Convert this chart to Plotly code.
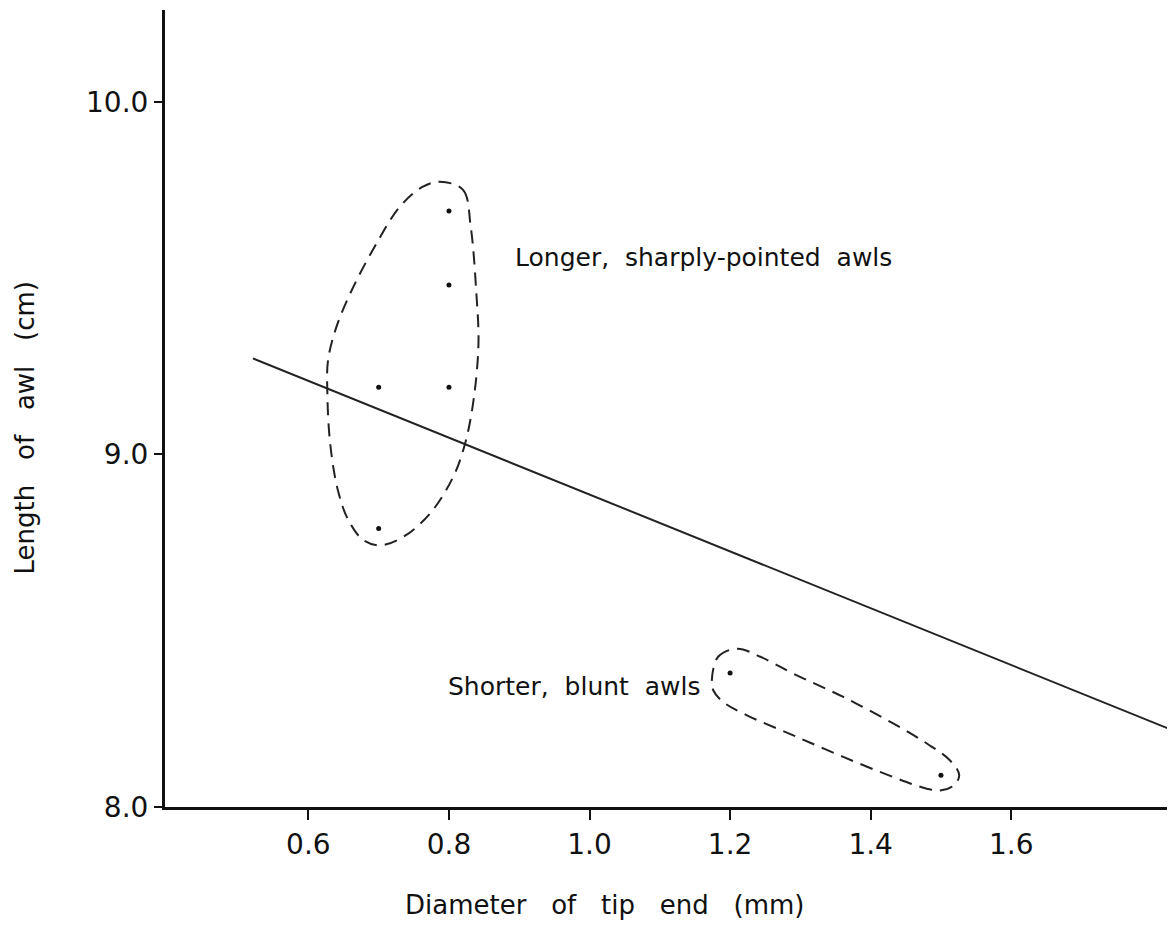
import plotly.graph_objects as go

# Data points (diameter of tip end mm, length of awl cm)
diam = [0.8, 0.8, 0.7, 0.8, 0.7, 1.2, 1.5]
length = [9.69, 9.48, 9.19, 9.19, 8.79, 8.38, 8.09]

# Regression line end points
line_x = [0.521, 1.829]
line_y = [9.272, 8.218]

# Dashed outline around longer, sharply-pointed awls
loop1_x = [0.787, 0.820, 0.831, 0.839, 0.842, 0.835, 0.823, 0.806, 0.773, 0.735, 0.702,
           0.678, 0.657, 0.642, 0.631, 0.627, 0.628, 0.640, 0.664, 0.697, 0.730, 0.763, 0.787]
loop1_y = [9.773, 9.750, 9.645, 9.456, 9.315, 9.154, 9.031, 8.936, 8.832, 8.766, 8.742,
           8.757, 8.813, 8.898, 9.031, 9.173, 9.267, 9.362, 9.475, 9.598, 9.702, 9.759, 9.773]

# Dashed outline around shorter, blunt awls
loop2_x = [1.174, 1.183, 1.210, 1.243, 1.290, 1.361, 1.432, 1.480, 1.513, 1.526, 1.518,
           1.499, 1.480, 1.432, 1.361, 1.290, 1.224, 1.190, 1.176, 1.174]
loop2_y = [8.359, 8.426, 8.449, 8.426, 8.378, 8.312, 8.237, 8.180, 8.132, 8.090, 8.061,
           8.047, 8.052, 8.085, 8.142, 8.203, 8.260, 8.298, 8.331, 8.359]

x_ticks = [0.6, 0.8, 1.0, 1.2, 1.4, 1.6]
x_tick_text = ["0.6", "0.8", "1.0", "1.2", "1.4", "1.6"]
y_ticks = [8.0, 9.0, 10.0]
y_tick_text = ["8.0", "9.0", "10.0"]

FONT = "DejaVu Sans"

fig = go.Figure()
fig.add_trace(go.Scatter(x=loop1_x, y=loop1_y, mode="lines",
                         line=dict(color="#222", width=2, dash="13px,8px", shape="spline", smoothing=1.0),
                         hoverinfo="skip"))
fig.add_trace(go.Scatter(x=loop2_x, y=loop2_y, mode="lines",
                         line=dict(color="#222", width=2, dash="13px,8px", shape="spline", smoothing=1.0),
                         hoverinfo="skip"))
fig.add_trace(go.Scatter(x=line_x, y=line_y, mode="lines",
                         line=dict(color="#222", width=2)))
fig.add_trace(go.Scatter(x=diam, y=length, mode="markers",
                         marker=dict(color="#111", size=5)))

fig.add_annotation(x=0.891, y=9.557, xref="x", yref="y", text="Longer,  sharply-pointed  awls",
                   showarrow=False, xanchor="left", yanchor="middle",
                   font=dict(family=FONT, size=25, color="#111"))
fig.add_annotation(x=1.161, y=8.342, xref="x", yref="y", text="Shorter,  blunt  awls",
                   showarrow=False, xanchor="right", yanchor="middle",
                   font=dict(family=FONT, size=25, color="#111"))

# Axis titles
fig.add_annotation(x=-0.1386, y=0.475, xref="paper", yref="paper", text="Length   of   awl   (cm)",
                   textangle=-90, showarrow=False, xanchor="center", yanchor="middle",
                   font=dict(family=FONT, size=26, color="#111"))
fig.add_annotation(x=0.4356, y=-0.1234, xref="paper", yref="paper", text="Diameter   of   tip   end   (mm)",
                   showarrow=False, xanchor="center", yanchor="middle",
                   font=dict(family=FONT, size=26, color="#111"))

fig.update_layout(
    width=1167, height=936,
    margin=dict(l=157, r=0, t=2, b=137),
    plot_bgcolor="white", paper_bgcolor="white",
    showlegend=False,
    font=dict(family=FONT, color="#111"),
)
fig.update_xaxes(range=[0.396, 1.833], showgrid=False, zeroline=False,
                 showline=True, linecolor="#111", linewidth=3,
                 ticks="outside", ticklen=10, tickwidth=2, tickcolor="#111",
                 tickvals=x_ticks, ticktext=x_tick_text,
                 tickfont=dict(family=FONT, size=28, color="#111"))
fig.update_yaxes(range=[8.0, 10.26], showgrid=False, zeroline=False,
                 showline=True, linecolor="#111", linewidth=3,
                 ticks="outside", ticklen=8, tickwidth=2, tickcolor="#111",
                 tickvals=y_ticks, ticktext=y_tick_text,
                 tickfont=dict(family=FONT, size=28, color="#111"))

fig.write_html("out.html")
